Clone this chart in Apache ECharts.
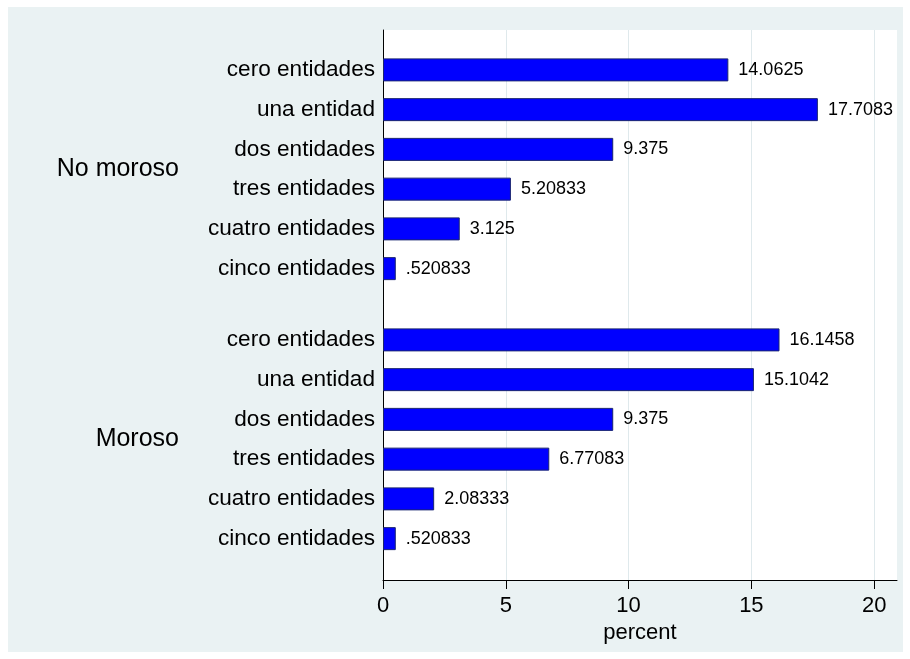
<!DOCTYPE html>
<html lang="es">
<head>
    <meta charset="utf-8">
    <title>Entidades por moroso</title>
    <script src="https://cdn.jsdelivr.net/npm/echarts@6/dist/echarts.min.js"></script>
    <style>
        body {
            margin: 0;
            background: #fff;
        }

        .frame {
            position: absolute;
            left: 8px;
            top: 7px;
            width: 895px;
            height: 645px;
            background: #eaf2f3;
        }

        #container {
            width: 895px;
            height: 645px;
        }
    </style>
</head>
<body>
<div class="frame">
    <div id="container"></div>
</div>
<script>
    var categories = ['cero entidades', 'una entidad', 'dos entidades', 'tres entidades', 'cuatro entidades', 'cinco entidades'];
    var groups = ['No moroso', 'Moroso'];
    var noMoroso = [14.0625, 17.7083, 9.375, 5.20833, 3.125, 0.520833];
    var moroso = [16.1458, 15.1042, 9.375, 6.77083, 2.08333, 0.520833];
    var xTicks = [0, 5, 10, 15, 20];

    var font = 'Liberation Sans, Arial, sans-serif';
    var xMax = 20.93;

    function fmt(v) {
        // stata style, no leading zero
        return String(v).replace(/^0\./, '.');
    }

    function subGrid(top) {
        return {left: 375, right: 6, top: top, height: 238.5, show: false};
    }

    function subY(idx, name) {
        return {
            type: 'category',
            gridIndex: idx,
            data: categories,
            inverse: true,
            axisLine: {show: false},
            axisTick: {show: false},
            axisLabel: {color: '#000', fontSize: 22.6, fontFamily: font, margin: 8},
            name: name,
            nameLocation: 'middle',
            nameRotate: 0,
            nameGap: 204,
            nameTextStyle: {color: '#000', fontSize: 25, fontFamily: font, align: 'right', verticalAlign: 'middle'}
        };
    }

    function barSeries(idx, data) {
        return {
            type: 'bar',
            xAxisIndex: idx,
            yAxisIndex: idx,
            data: data,
            barWidth: 23,
            itemStyle: {color: '#0000ff', borderColor: '#1a2570', borderWidth: 1},
            label: {
                show: true,
                position: 'right',
                distance: 10,
                color: '#000',
                fontSize: 18,
                fontFamily: font,
                formatter: function (p) {
                    return fmt(p.value);
                }
            }
        };
    }

    var myChart = echarts.init(document.getElementById('container'));
    var option = {
        animation: false,
        backgroundColor: 'transparent',
        grid: [
            {left: 375, right: 6, top: 23, bottom: 72, show: true, backgroundColor: '#fff', borderWidth: 0},
            subGrid(43),
            subGrid(313)
        ],
        xAxis: [
            {
                type: 'value',
                gridIndex: 0,
                min: 0,
                max: xMax,
                name: 'percent',
                nameLocation: 'middle',
                nameGap: 38,
                nameTextStyle: {color: '#000', fontSize: 22, fontFamily: font},
                axisLine: {show: true, lineStyle: {color: '#000', width: 1}},
                axisTick: {show: true, length: 9, lineStyle: {color: '#000'}, customValues: xTicks},
                axisLabel: {color: '#000', fontSize: 22, fontFamily: font, margin: 15, customValues: xTicks},
                splitLine: {show: true, lineStyle: {color: '#dfe9ec', width: 1}}
            },
            {type: 'value', gridIndex: 1, min: 0, max: xMax, show: false},
            {type: 'value', gridIndex: 2, min: 0, max: xMax, show: false}
        ],
        yAxis: [
            {
                type: 'value',
                gridIndex: 0,
                min: 0,
                max: 1,
                axisLine: {show: true, lineStyle: {color: '#000', width: 1}},
                axisTick: {show: false},
                axisLabel: {show: false},
                splitLine: {show: false}
            },
            subY(1, groups[0]),
            subY(2, groups[1])
        ],
        series: [
            barSeries(1, noMoroso),
            barSeries(2, moroso)
        ]
    };
    myChart.setOption(option);
</script>
</body>
</html>
